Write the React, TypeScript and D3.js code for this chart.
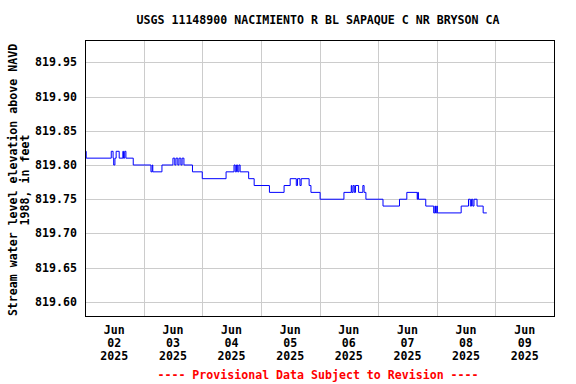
import React from "react";
import * as d3 from "d3";

const title = "USGS 11148900 NACIMIENTO R BL SAPAQUE C NR BRYSON CA";
const yAxisTitle = ["Stream water level elevation above NAVD", "1988, in feet"];
const footer = "---- Provisional Data Subject to Revision ----";

// hours since 2025-06-02 00:00
const hours = [
  0, 0.5, 10.75, 11.5, 11.75, 12.25, 12.75, 14, 15.5, 15.75, 16.25, 16.75, 19.75,
  27, 27.5, 27.75, 31.5, 36, 36.75, 37.25, 38, 38.5, 39.25, 39.75, 40.5, 44, 48,
  57.75, 61, 61.5, 62, 62.5, 63, 63.5, 67, 69.25, 75.5, 81.5, 84, 86.5, 87,
  88, 88.5, 91.75, 92.5, 96.25, 106, 109, 109.25, 109.75, 110.25, 110.75, 112,
  113.75, 114.25, 115, 122, 128.75, 131.75, 136, 136.25, 136.5, 139.5, 142.75,
  143.25, 143.5, 144, 144.25, 154, 157, 157.75, 158.25, 158.75, 159.25, 160.5,
  163, 164.5,
];
const values = [
  819.82, 819.81, 819.82, 819.81, 819.8, 819.81, 819.82, 819.81, 819.82, 819.81,
  819.82, 819.81, 819.8, 819.79, 819.8, 819.79, 819.8, 819.81, 819.8, 819.81,
  819.8, 819.81, 819.8, 819.81, 819.8, 819.79, 819.78, 819.79, 819.8, 819.79,
  819.8, 819.79, 819.8, 819.79, 819.78, 819.77, 819.76, 819.77, 819.78, 819.77,
  819.78, 819.77, 819.78, 819.77, 819.76, 819.75, 819.76, 819.77, 819.76, 819.77,
  819.76, 819.77, 819.76, 819.77, 819.76, 819.75, 819.74, 819.75, 819.76, 819.75,
  819.76, 819.75, 819.74, 819.73, 819.74, 819.73, 819.74, 819.73, 819.74, 819.75,
  819.74, 819.75, 819.74, 819.75, 819.74, 819.73, 819.73,
];

const yTicks = [819.6, 819.65, 819.7, 819.75, 819.8, 819.85, 819.9, 819.95];
const dayGridHours = [24, 48, 72, 96, 120, 144, 168];
const dayLabelHours = [12, 36, 60, 84, 108, 132, 156, 180];
const dayLabels = ["02", "03", "04", "05", "06", "07", "08", "09"];
const monthLabel = "Jun";
const yearLabel = "2025";

const W = 576;
const H = 384;
const left = 85;
const right = 554;
const top = 40;
const bottom = 316;
const font = "'DejaVu Sans Mono', monospace";

export default function App() {
  const x = d3.scaleLinear().domain([0, 192]).range([left, right]);
  const y = d3.scaleLinear().domain([819.5794, 819.9826]).range([bottom, top]);
  const pts: [number, number][] = hours.map((h, i) => [h, values[i]]);
  const line = d3
    .line<[number, number]>()
    .x((d) => x(d[0]))
    .y((d) => y(d[1]))
    .curve(d3.curveStepAfter);
  const path = line(pts) || "";
  const fmt = d3.format(".2f");

  return (
    <svg
      width={W}
      height={H}
      style={{ position: "absolute", left: 0, top: 0, background: "#fff" }}
    >
      <rect x={0} y={0} width={W} height={H} fill="#fff" />
      <text
        x={318}
        y={24}
        textAnchor="middle"
        fontFamily={font}
        fontWeight="bold"
        fontSize={11.6}
        fill="#000"
      >
        {title}
      </text>
      <g shapeRendering="crispEdges">
        {yTicks.map((t) => (
          <line
            key={"h" + t}
            x1={left}
            x2={right}
            y1={Math.round(y(t)) + 0.5}
            y2={Math.round(y(t)) + 0.5}
            stroke="#cccccc"
            strokeWidth={1}
          />
        ))}
        {dayGridHours.map((h) => (
          <line
            key={"v" + h}
            x1={Math.round(x(h)) + 0.5}
            x2={Math.round(x(h)) + 0.5}
            y1={top}
            y2={bottom}
            stroke="#cccccc"
            strokeWidth={1}
          />
        ))}
      </g>
      <path d={path} fill="none" stroke="#0000ff" strokeWidth={1} />
      <rect
        x={left + 0.5}
        y={top + 0.5}
        width={right - left}
        height={bottom - top}
        fill="none"
        stroke="#000"
        strokeWidth={1}
        shapeRendering="crispEdges"
      />
      {yTicks.map((t) => (
        <text
          key={"yl" + t}
          x={77}
          y={y(t) + 4}
          textAnchor="end"
          fontFamily={font}
          fontWeight="bold"
          fontSize={11.6}
          fill="#000"
        >
          {fmt(t)}
        </text>
      ))}
      {dayLabelHours.map((h, i) => (
        <text
          key={"xl" + h}
          x={x(h)}
          textAnchor="middle"
          fontFamily={font}
          fontWeight="bold"
          fontSize={11.6}
          fill="#000"
        >
          <tspan x={x(h)} y={334}>
            {monthLabel}
          </tspan>
          <tspan x={x(h)} y={347}>
            {dayLabels[i]}
          </tspan>
          <tspan x={x(h)} y={360}>
            {yearLabel}
          </tspan>
        </text>
      ))}
      <text
        transform={`translate(17,${(top + bottom) / 2 + 2}) rotate(-90)`}
        textAnchor="middle"
        fontFamily={font}
        fontWeight="bold"
        fontSize={11.6}
        fill="#000"
      >
        {yAxisTitle[0]}
      </text>
      <text
        transform={`translate(29,${(top + bottom) / 2 + 2}) rotate(-90)`}
        textAnchor="middle"
        fontFamily={font}
        fontWeight="bold"
        fontSize={11.6}
        fill="#000"
      >
        {yAxisTitle[1]}
      </text>
      <text
        x={318}
        y={379}
        textAnchor="middle"
        fontFamily={font}
        fontWeight="bold"
        fontSize={11.6}
        fill="#ff0000"
      >
        {footer}
      </text>
    </svg>
  );
}
